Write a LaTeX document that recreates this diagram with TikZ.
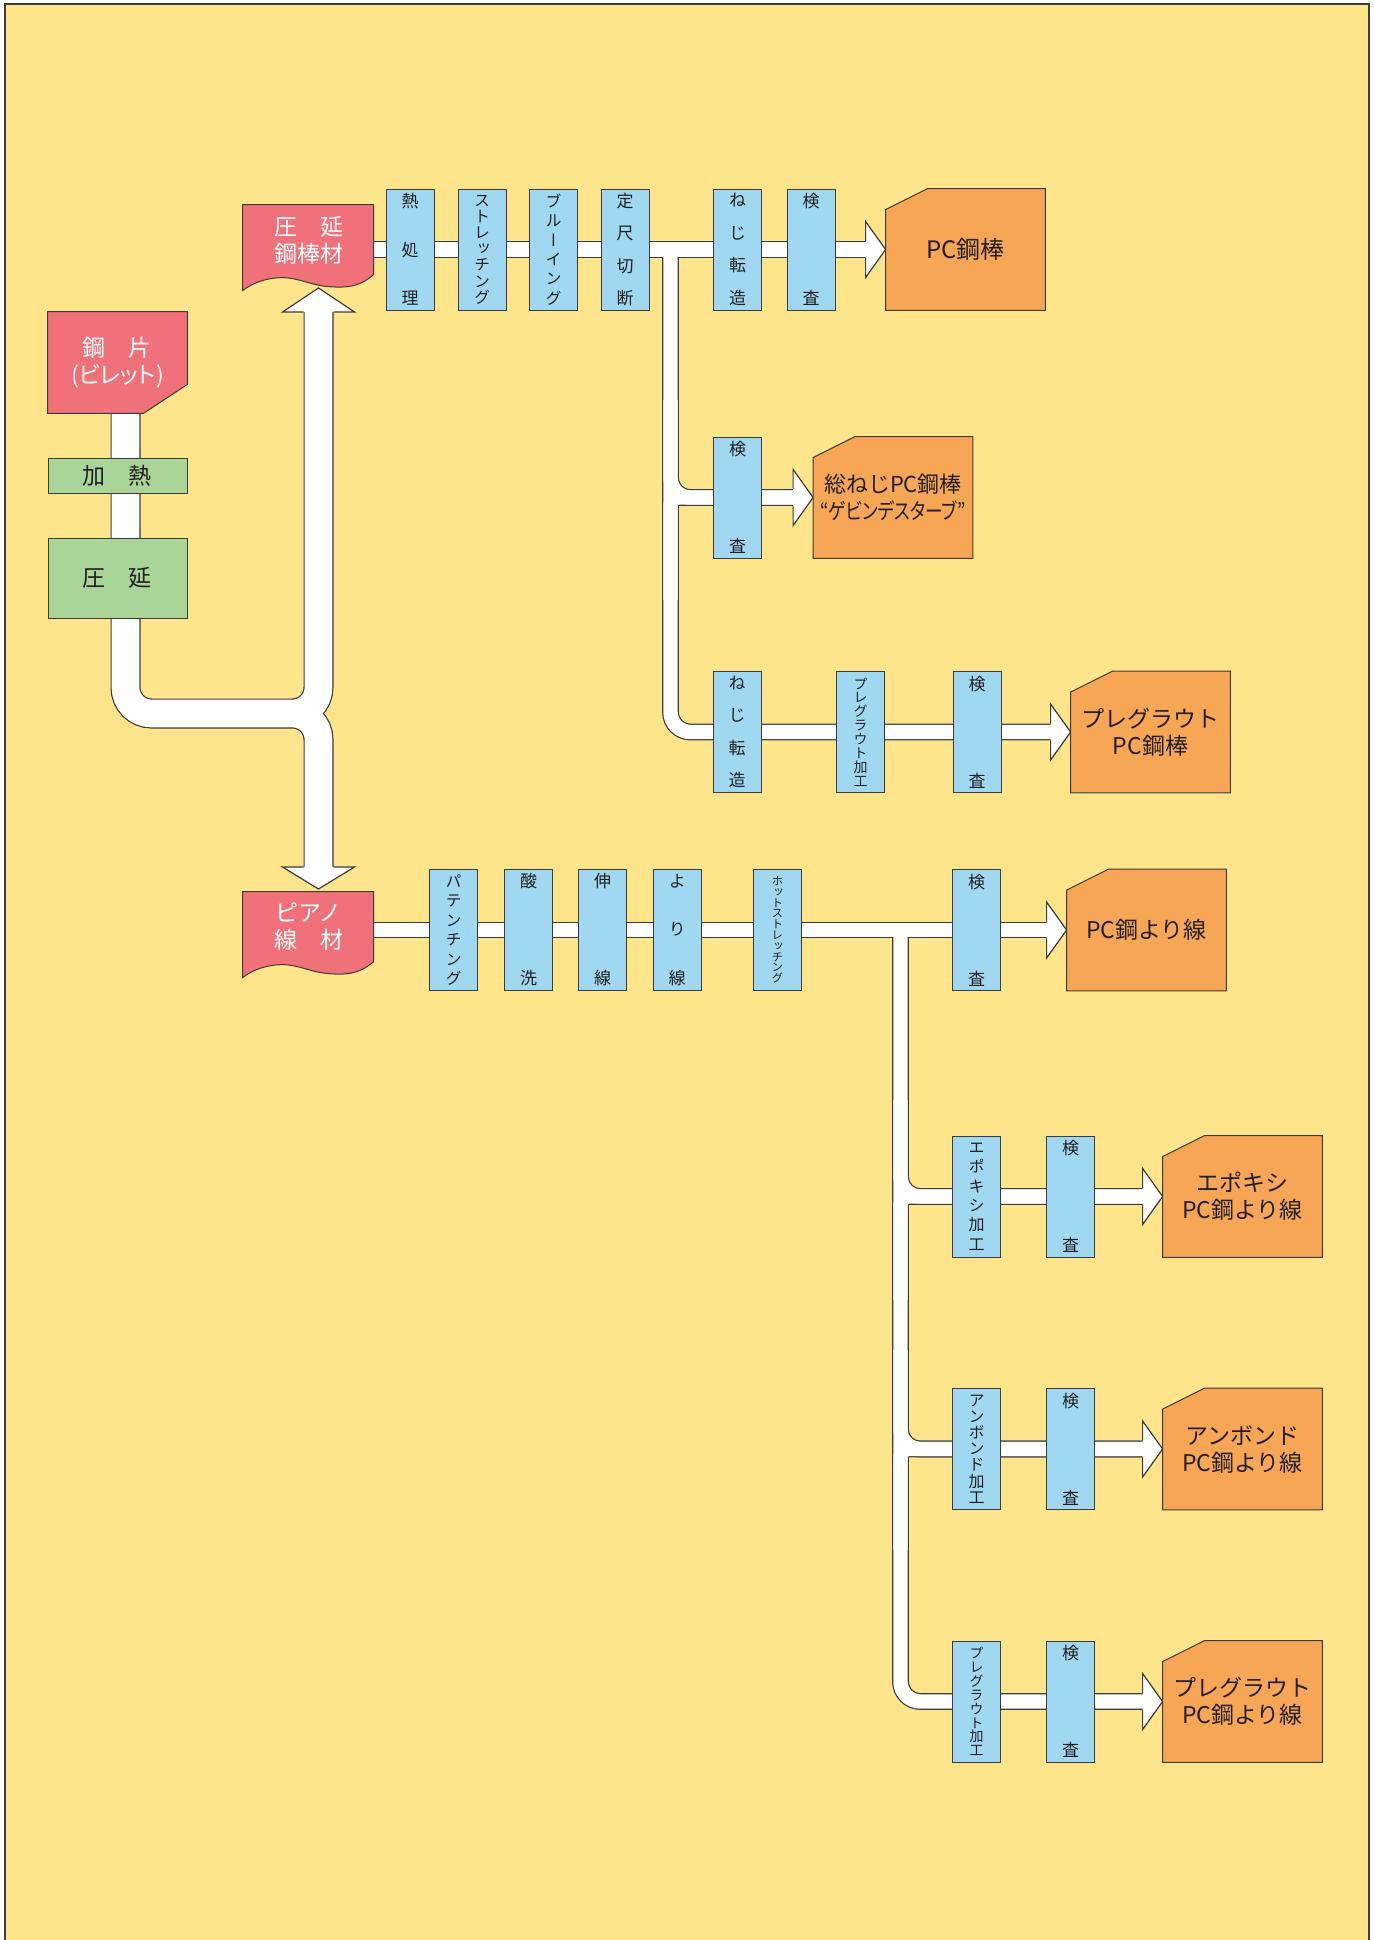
\documentclass[tikz,border=0pt]{standalone}
\usepackage{fontspec}
\newfontfamily\jp{Noto Sans CJK JP}
\newfontfamily\jpp[RawFeature=+palt]{Noto Sans CJK JP}
\newfontfamily\tatefont[RawFeature=+vert]{Noto Sans CJK JP}
\definecolor{pagey}{RGB}{254,228,139}
\definecolor{procblue}{RGB}{160,216,242}
\definecolor{prodorange}{RGB}{246,166,84}
\definecolor{pinkc}{RGB}{241,113,122}
\definecolor{stagegreen}{RGB}{170,213,153}
\definecolor{edgec}{RGB}{60,60,60}
\definecolor{inkc}{RGB}{35,31,32}
\pgfdeclarelayer{bg}
\pgfdeclarelayer{shape}
\pgfsetlayers{bg,shape,main}
\newcommand\bigfont{\jp\fontsize{11.5}{13.5}\selectfont}
\newcommand\tate[2][8.5]{\tatefont\fontsize{#1}{#2}\selectfont}
\newcommand\bandpaths[1]{%
\draw[trunk#1] (125.5,400) -- (125.5,713.5) -- (318.5,713.5) -- (318.5,310)
  (125.5,400) -- (125.5,713.5) -- (318.5,713.5) -- (318.5,869);
\draw[tape#1] (rolled.center |- heat.center) -- ([xshift=-9pt]pcbar.west);
\draw[tape#1] (670.5,249.5) |- ([xshift=-9pt]pgbar.west);
\draw[tape#1] (670.5,400) |- ([xshift=-9pt]fullthread.west);
\draw[tape#1,rounded corners=4pt] (670.5,600) |- ([xshift=-9pt]fullthread.west);
\draw[tape#1] (piano.center |- patent.center) -- ([xshift=-9pt]pcstrand.west);
\draw[tape#1] (900.5,930) |- ([xshift=-9pt]pgstrand.west);
\draw[tape#1] (900.5,1100) |- ([xshift=-9pt]epstrand.west);
\draw[tape#1,rounded corners=4pt] (900.5,1300) |- ([xshift=-9pt]epstrand.west);
\draw[tape#1] (900.5,1350) |- ([xshift=-9pt]unstrand.west);
\draw[tape#1,rounded corners=4pt] (900.5,1550) |- ([xshift=-9pt]unstrand.west);
}
\tikzset{
  edgeline/.style={draw=edgec,line width=0.6pt},
  trunkout/.style={draw=edgec,line width=15pt,rounded corners=13pt},
  trunkin/.style={draw=white,line width=13.8pt,rounded corners=13pt},
  tapeout/.style={draw=edgec,line width=8.4pt,rounded corners=10pt},
  tapein/.style={draw=white,line width=7.2pt,rounded corners=10pt},
  proc/.style={draw=edgec,line width=0.5pt,fill=procblue,minimum width=24pt,minimum height=60.5pt,inner sep=0pt,align=center,text=inkc,font={\tate{8}}},
  stage/.style={draw=edgec,line width=0.5pt,fill=stagegreen,minimum width=69.5pt,inner sep=0pt,text=inkc,font=\bigfont},
  docnode/.style={minimum width=65.5pt,minimum height=35pt,inner sep=0pt,align=center,text=white,font=\bigfont},
  prod/.style={minimum width=79.5pt,minimum height=60.5pt,inner sep=0pt,align=center,text=inkc,font=\bigfont},
  docline/.style={edgeline,line width=0.5pt,fill=pinkc},
  prodline/.style={edgeline,line width=0.5pt,fill=prodorange},
  docshape/.pic={\draw[docline] (0,0) -- (131,0) -- (131,70) .. controls (115,84) and (100,83) .. (86,82)
    .. controls (70,81) and (55,73) .. (40,73) .. controls (25,73) and (10,78) .. (0,86) -- cycle;},
  smallhd/.pic={\fill[white] (0,0) -- (-20,-28) -- (-20,28) -- cycle;
    \draw[edgeline] (-20,-8.4) -- (-20,-28) -- (0,0) -- (-20,28) -- (-20,8.4);}
}
\begin{document}
\begin{tikzpicture}[x=0.5pt,y=-0.5pt]
\useasboundingbox (0,0) rectangle (1373,1940);
\begin{pgfonlayer}{bg}
\fill[white] (0,0) rectangle (1373,1940);
\filldraw[fill=pagey,draw=edgec,line width=0.6pt] (5,4) rectangle (1369,1960);
\end{pgfonlayer}
% left column
\node[docnode,minimum width=69.5pt,minimum height=50.5pt] (billet) at (117.5,362.5) {鋼　片\\{\jpp (ビレット)}};
\node[stage,minimum height=17.5pt] (heating) at (117.5,475.5) {加　熱};
\node[stage,minimum height=40pt] (rolling) at (117.5,578) {圧　延};
\node[docnode] (rolled) at (308.5,240) {圧　延\\鋼棒材};
\node[docnode] (piano) at (308.5,927) {ピアノ\\線　材};
% bar line
\node[proc,font={\tate{24.25}}] (heat) at (410,249.5) {熱\\処\\理};
\node[proc,font={\tate[8]{8.1}}] (stretch) at (482,249.5) {ス\\ト\\レ\\ッ\\チ\\ン\\グ};
\node[proc,font={\tate[8]{9.7}}] (bluing) at (553.5,249.5) {ブ\\ル\\ー\\イ\\ン\\グ};
\node[proc,font={\tate{16.2}}] (cut) at (625,249.5) {定\\尺\\切\\断};
\node[proc,font={\tate{16.2}}] (thread1) at (737.5,249.5) {ね\\じ\\転\\造};
\node[proc,font={\tate{48.5}}] (insp1) at (811,249.5) {検\\査};
\node[prod,font=\jp\fontsize{12}{14}\selectfont] (pcbar) at (965.5,249.5) {PC鋼棒};
\node[proc,font={\tate{48.5}}] (insp2) at (737.5,497.5) {検\\査};
\node[prod,font=\jp\fontsize{11}{13.5}\selectfont] (fullthread) at (893,497.5) {総ねじPC鋼棒\\{\jpp\scalebox{0.8}[1]{“ゲビンデスターブ”}}};
\node[proc,font={\tate{16.2}}] (thread2) at (737,732) {ね\\じ\\転\\造};
\node[proc,font={\tate[7]{6.95}}] (pgwork1) at (860.5,732) {プ\\レ\\グ\\ラ\\ウ\\ト\\加\\工};
\node[proc,font={\tate{48.5}}] (insp3) at (977,732) {検\\査};
\node[prod] (pgbar) at (1150.5,732) {プレグラウト\\PC鋼棒};
% strand line
\node[proc,font={\tate[8]{9.7}}] (patent) at (453.5,930) {パ\\テ\\ン\\チ\\ン\\グ};
\node[proc,font={\tate{48.5}}] (pickle) at (528.5,930) {酸\\洗};
\node[proc,font={\tate{48.5}}] (drawing) at (602.5,930) {伸\\線};
\node[proc,font={\tate{24.25}}] (twist) at (677,930) {よ\\り\\線};
\node[proc,font={\tate[5.8]{5.4}}] (hotst) at (777.5,930) {ホ\\ッ\\ト\\ス\\ト\\レ\\ッ\\チ\\ン\\グ};
\node[proc,font={\tate{48.5}}] (insp4) at (976.5,930) {検\\査};
\node[prod] (pcstrand) at (1146.5,930) {PC鋼より線};
\node[proc,font={\tate[8]{9.7}}] (epwork) at (976.5,1196.5) {エ\\ポ\\キ\\シ\\加\\工};
\node[proc,font={\tate{48.5}}] (insp5) at (1070.5,1196.5) {検\\査};
\node[prod] (epstrand) at (1242.5,1196.5) {エポキシ\\PC鋼より線};
\node[proc,font={\tate[8]{8.1}}] (unwork) at (976.5,1449) {ア\\ン\\ボ\\ン\\ド\\加\\工};
\node[proc,font={\tate{48.5}}] (insp6) at (1070.5,1449) {検\\査};
\node[prod] (unstrand) at (1242.5,1449) {アンボンド\\PC鋼より線};
\node[proc,font={\tate[7]{6.95}}] (pgwork2) at (976.5,1701.5) {プ\\レ\\グ\\ラ\\ウ\\ト\\加\\工};
\node[proc,font={\tate{48.5}}] (insp7) at (1070.5,1701.5) {検\\査};
\node[prod] (pgstrand) at (1242.5,1701.5) {プレグラウト\\PC鋼より線};
\begin{pgfonlayer}{shape}
\draw[docline] (billet.north west) -- (billet.north east) -- ([yshift=14.5pt]billet.south east)
  -- ([xshift=-22pt]billet.south east) -- (billet.south west) -- cycle;
\pic at (rolled.north west) {docshape};
\pic at (piano.north west) {docshape};
\foreach \n in {pcbar,fullthread,pgbar,pcstrand,epstrand,unstrand,pgstrand}
  \draw[prodline] (\n.south west) -- (\n.south east) -- (\n.north east)
    -- ([xshift=21pt]\n.north west) -- ([yshift=-10.5pt]\n.north west) -- cycle;
\end{pgfonlayer}
\begin{pgfonlayer}{bg}
\bandpaths{out}
\bandpaths{in}
\foreach \n in {pcbar,fullthread,pgbar,pcstrand,epstrand,unstrand,pgstrand}
  \pic at (\n.west) {smallhd};
\fill[white] (318.5,288) -- (354.5,312) -- (282.5,312) -- cycle;
\draw[edgeline] (303.5,312) -- (282.5,312) -- (318.5,288) -- (354.5,312) -- (333.5,312);
\fill[white] (318.5,889) -- (354.5,867) -- (282.5,867) -- cycle;
\draw[edgeline] (303.5,867) -- (282.5,867) -- (318.5,889) -- (354.5,867) -- (333.5,867);
\end{pgfonlayer}
\end{tikzpicture}
\end{document}
